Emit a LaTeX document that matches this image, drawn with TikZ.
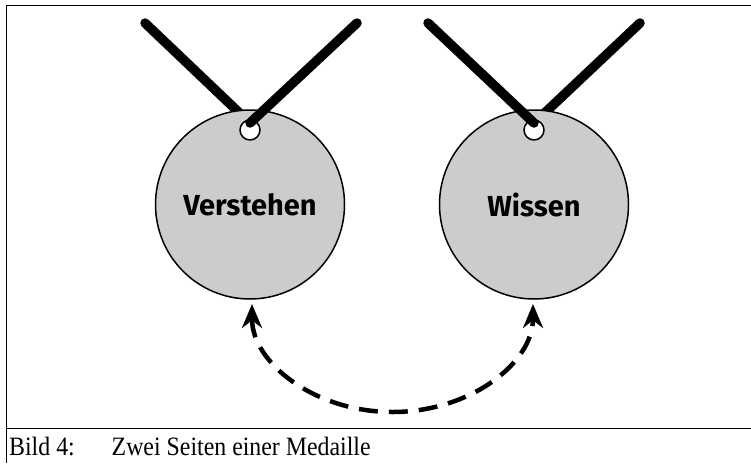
\documentclass[tikz,border=0pt]{standalone}
\usepackage{fontspec}
\setmainfont{Liberation Serif}
\setsansfont{Fira Sans}
\newfontfamily\captionfont[FakeStretch=0.9]{Liberation Serif}
\usetikzlibrary{arrows.meta,positioning}
\definecolor{medalgray}{HTML}{CCCCCC}

\begin{document}
\begin{tikzpicture}[x=1pt, y=-1pt,
		medal/.style={draw, line width=1.5pt, fill=medalgray, circle, minimum size=189pt, inner sep=0pt, font=\sffamily\bfseries\fontsize{29}{34}\selectfont},
		hole/.style={draw, line width=1.5pt, fill=white, circle, minimum size=20pt, inner sep=0pt},
		ribbon/.style={line width=9.5pt, line cap=round},
		link/.style={line width=4.5pt, dash pattern=on 19pt off 11pt, {Stealth[length=24pt, width=20pt]}-{Stealth[length=24pt, width=20pt]}},
		caption/.style={anchor=base west, inner sep=0pt, font=\captionfont\fontsize{26.5}{30}\selectfont}]
	\useasboundingbox (0,0) rectangle (751,463);
	% frame
	\draw[line width=1.6pt] (751,5.5) -- (6.5,5.5) -- (6.5,463);
	\draw[line width=1.6pt] (6.5,428.5) -- (751,428.5);
	
	% left medal
	\coordinate (knotV) at (250,123);
	\coordinate (endVl) at (145,23);
	\coordinate (endVr) at (357,23);
	\draw[ribbon] (endVl) -- (knotV);
	\node[medal] (verstehen) at (250,204.5) {Verstehen};
	\node[hole] (holeV) at (250,130) {};
	\draw[ribbon] (endVr) -- (knotV);
	
	% right medal
	\coordinate (knotW) at (534,123);
	\coordinate (endWl) at (428,23);
	\coordinate (endWr) at (640,23);
	\draw[ribbon] (endWr) -- (knotW);
	\node[medal] (wissen) at (534,204.5) {Wissen};
	\node[hole] (holeW) at (534,130) {};
	\draw[ribbon] (endWl) -- (knotW);
	
	% dashed link
	\coordinate (tipV) at (252,304);
	\coordinate (tipW) at (533,304);
	\coordinate (bottom) at (392.5,412);
	\draw[link] (tipV) .. controls +(0,59) and +(-77.6,0) .. (bottom) .. controls +(77.6,0) and +(0,59) .. (tipW);
	
	% caption
	\node[caption] (bild) at (9,455) {Bild 4:};
	\node[caption] (titel) at (111.5,455) {Zwei Seiten einer Medaille};
\end{tikzpicture}
\end{document}
